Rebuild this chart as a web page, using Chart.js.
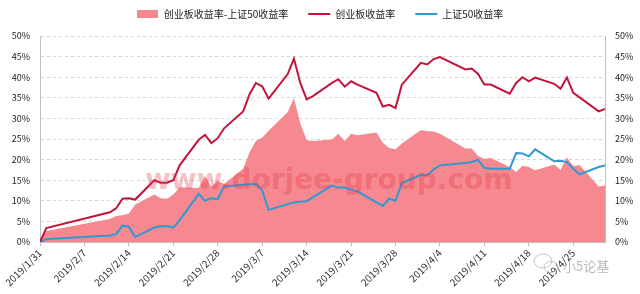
<!DOCTYPE html>
<html>
<head>
<meta charset="utf-8">
<script src="https://cdn.jsdelivr.net/npm/chart.js@4.4.0/dist/chart.umd.min.js"></script>
<style>
  html, body { margin: 0; padding: 0; background: #fff; }
  #wrap { width: 640px; height: 294px; position: relative; }
</style>
</head>
<body>
<div id="wrap"><canvas id="chartSpread"></canvas></div>
<script>
// trading days, 2019/1/31 - 2019/4/30
const tradeDates = [
  '2019/1/31', '2019/2/1', '2019/2/11', '2019/2/12', '2019/2/13', '2019/2/14', '2019/2/15',
  '2019/2/18', '2019/2/19', '2019/2/20', '2019/2/21', '2019/2/22', '2019/2/25', '2019/2/26',
  '2019/2/27', '2019/2/28', '2019/3/1', '2019/3/4', '2019/3/5', '2019/3/6', '2019/3/7',
  '2019/3/8', '2019/3/11', '2019/3/12', '2019/3/13', '2019/3/14', '2019/3/15', '2019/3/18',
  '2019/3/19', '2019/3/20', '2019/3/21', '2019/3/22', '2019/3/25', '2019/3/26', '2019/3/27',
  '2019/3/28', '2019/3/29', '2019/4/1', '2019/4/2', '2019/4/3', '2019/4/4', '2019/4/8',
  '2019/4/9', '2019/4/10', '2019/4/11', '2019/4/12', '2019/4/15', '2019/4/16', '2019/4/17',
  '2019/4/18', '2019/4/19', '2019/4/22', '2019/4/23', '2019/4/24', '2019/4/25', '2019/4/26',
  '2019/4/29', '2019/4/30'
];

// 创业板收益率 (%)
const chinextRet = [
  0, 3.4, 7.2, 8.2, 10.5, 10.6, 10.3, 15.0, 14.4, 14.4, 15.0, 18.6, 24.8, 26.0,
  24.0, 25.2, 27.6, 31.7, 35.8, 38.6, 37.8, 34.8, 40.7, 44.5, 38.6, 34.6, 35.4, 38.6,
  39.5, 37.7, 39.0, 38.2, 36.2, 32.9, 33.3, 32.5, 38.2, 43.5, 43.1, 44.4, 44.9, 41.9,
  42.1, 40.8, 38.2, 38.2, 36.0, 38.6, 40.0, 39.0, 39.9, 38.4, 37.2, 39.9, 36.2, 35.1,
  31.7, 32.3
];

// 上证50收益率 (%)
const sse50Ret = [
  0, 0.7, 1.6, 1.9, 4.0, 3.7, 1.2, 3.5, 3.8, 3.9, 3.5, 5.3, 11.7, 10.0,
  10.6, 10.4, 13.5, 13.9, 14.0, 14.1, 12.5, 7.8, 9.2, 9.6, 9.8, 9.9, 10.9, 13.7,
  13.2, 13.2, 12.7, 12.3, 9.6, 8.8, 10.5, 10.0, 14.3, 16.3, 16.2, 17.6, 18.6, 19.2,
  19.4, 19.9, 18.0, 17.8, 17.8, 21.6, 21.5, 20.8, 22.5, 19.6, 19.7, 19.4, 17.8, 16.4,
  18.2, 18.6
];

// 创业板收益率-上证50收益率 (%)
const spreadRet = [
  0, 2.7, 5.6, 6.3, 6.5, 6.9, 9.1, 11.5, 10.6, 10.5, 11.5, 13.3, 13.1, 16.0,
  13.4, 14.8, 14.1, 17.8, 21.8, 24.5, 25.3, 27.0, 31.5, 34.9, 28.8, 24.7, 24.5, 24.9,
  26.3, 24.5, 26.3, 25.9, 26.6, 24.1, 22.8, 22.5, 23.9, 27.2, 26.9, 26.8, 26.3, 22.7,
  22.7, 20.9, 20.2, 20.4, 18.2, 17.0, 18.5, 18.2, 17.4, 18.8, 17.5, 20.5, 18.4, 18.7,
  13.5, 13.7
];

const seriesNames = ['创业板收益率-上证50收益率', '创业板收益率', '上证50收益率'];
const yMin = 0, yMax = 50, yStep = 5;
const xStepDays = 7;

const PINK = '#F6888F';
const RED = '#C3143B';
const BLUE = '#2E98D2';

Chart.defaults.font.family = '"Noto Sans CJK SC", "Liberation Sans", sans-serif';

// date axis is linear in calendar days since the first date
const day0 = Date.UTC(2019, 0, 31);
function dayOf(s) {
    const p = s.split('/');
    return (Date.UTC(+p[0], +p[1] - 1, +p[2]) - day0) / 86400000;
}
function labelOf(d) {
    const t = new Date(day0 + d * 86400000);
    return t.getUTCFullYear() + '/' + (t.getUTCMonth() + 1) + '/' + t.getUTCDate();
}
const xDays = tradeDates.map(dayOf);
const toPoints = arr => arr.map((v, i) => ({ x: xDays[i], y: v }));

// pink swatch for the area series in the legend
const swatch = document.createElement('canvas');
swatch.width = 21;
swatch.height = 8;
const sctx = swatch.getContext('2d');
sctx.fillStyle = PINK;
sctx.fillRect(0, 0, 21, 8);

const watermark = {
    id: 'watermark',
    afterDatasetsDraw(chart) {
        const ctx = chart.ctx;
        ctx.save();
        ctx.font = 'bold 28px "DejaVu Sans"';
        ctx.fillStyle = 'rgba(230, 60, 80, 0.32)';
        ctx.fillText('www.dorjee-group.com', 145, 182);
        // wechat badge
        ctx.strokeStyle = '#c4c4c4';
        ctx.lineWidth = 1;
        ctx.beginPath();
        ctx.ellipse(543, 261, 9, 7, 0, 0, Math.PI * 2);
        ctx.stroke();
        ctx.beginPath();
        ctx.ellipse(551, 267, 7, 5.5, 0, 0, Math.PI * 2);
        ctx.stroke();
        ctx.font = '13px "Noto Sans CJK SC"';
        ctx.fillStyle = '#b8b8b8';
        ctx.fillText('小5论基', 563, 266);
        ctx.restore();
    }
};

const ctx = document.getElementById('chartSpread').getContext('2d');
new Chart(ctx, {
    type: 'line',
    data: {
        datasets: [{
            label: seriesNames[0],
            data: toPoints(spreadRet),
            fill: 'origin',
            backgroundColor: PINK,
            borderWidth: 0,
            pointRadius: 0,
            pointStyle: swatch,
            order: 3,
            yAxisID: 'y'
        }, {
            label: seriesNames[1],
            data: toPoints(chinextRet),
            borderColor: RED,
            backgroundColor: RED,
            borderWidth: 2,
            pointRadius: 0,
            pointStyle: 'line',
            order: 1,
            yAxisID: 'y'
        }, {
            label: seriesNames[2],
            data: toPoints(sse50Ret),
            borderColor: BLUE,
            backgroundColor: BLUE,
            borderWidth: 2,
            pointRadius: 0,
            pointStyle: 'line',
            order: 2,
            yAxisID: 'y'
        }]
    },
    options: {
        responsive: true,
        maintainAspectRatio: false,
        animation: false,
        layout: { padding: { top: -11, left: 0, right: 0, bottom: 0 } },
        plugins: {
            legend: {
                position: 'top',
                labels: {
                    usePointStyle: true,
                    pointStyleWidth: 22,
                    padding: 20,
                    color: '#222',
                    font: { size: 10 },
                    sort: (a, b) => a.datasetIndex - b.datasetIndex
                }
            },
            // empty title used as a spacer under the legend
            title: { display: true, text: '', weight: 500, padding: { top: 0, bottom: 7 }, font: { size: 0 } },
            tooltip: { enabled: false }
        },
        scales: {
            x: {
                type: 'linear',
                min: 0,
                max: dayOf('2019/4/30'),
                border: { color: '#bfbfbf' },
                grid: { drawOnChartArea: false, drawTicks: true, tickLength: 4, color: '#bfbfbf' },
                ticks: {
                    stepSize: xStepDays,
                    includeBounds: false,
                    autoSkip: false,
                    minRotation: 45,
                    maxRotation: 45,
                    padding: 1,
                    color: '#333',
                    font: { size: 10 },
                    callback: v => labelOf(v)
                },
                afterFit: s => { s.height = 52; }
            },
            y: {
                position: 'left',
                min: yMin,
                max: yMax,
                border: { color: '#bfbfbf', dash: [3, 3] },
                grid: { color: '#d6d6d6', drawTicks: false },
                ticks: { stepSize: yStep, padding: 10, color: '#222', font: { size: 9 }, callback: v => v + '%' },
                afterFit: s => { s.width = 40; }
            },
            y2: {
                position: 'right',
                min: yMin,
                max: yMax,
                border: { color: '#bfbfbf' },
                grid: { drawOnChartArea: false, drawTicks: false },
                ticks: { stepSize: yStep, padding: 10, color: '#222', font: { size: 9 }, callback: v => v + '%' },
                afterFit: s => { s.width = 35; }
            }
        }
    },
    plugins: [watermark]
});
</script>
</body>
</html>
